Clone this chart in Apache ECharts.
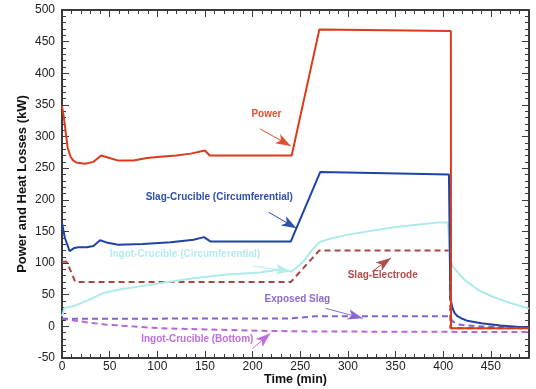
<!DOCTYPE html>
<html>
<head>
<meta charset="utf-8">
<script src="https://cdn.jsdelivr.net/npm/echarts@6/dist/echarts.min.js"></script>
<style>
  html, body { margin: 0; padding: 0; background: #fff; }
  #chart { width: 536px; height: 389px; }
</style>
</head>
<body>
<div id="chart"></div>
<script>
// Power input and heat losses during a melt cycle (kW against minutes)

const powerTime = [0, 2, 4, 6, 9, 12, 15, 24, 33, 37, 41, 50, 59, 75, 89, 103, 120, 135, 150, 155, 241, 270, 340, 408, 408.2, 450, 490];
const powerKW   = [348, 330, 305, 282, 268, 262, 259, 257, 260, 265, 270, 266, 262, 262, 266, 268, 270, 273, 278, 270, 270, 469, 468, 467, -3, -3, -3];

const slagCrucibleTime = [0, 3, 8, 13, 17, 26, 33, 40, 48, 59, 85, 114, 138, 149, 156, 240, 271, 340, 406, 407.5, 409.7, 412, 415, 420, 425, 440, 460, 490];
const slagCrucibleKW   = [163, 140, 119, 124, 125, 125, 127, 136, 132, 129, 130, 133, 137, 141, 134, 134, 244, 242, 240, 45, 29, 21, 16, 12, 9, 5, 1.5, -2];

const ingotCircTime = [0, 2.5, 14, 27, 44, 63, 77, 103, 138, 173, 208, 228, 236, 241, 248, 255, 262, 270, 280, 300, 325, 350, 375, 395, 405, 407, 410, 416, 422, 436, 450, 468, 490];
const ingotCircKW   = [16, 29, 33, 41, 53, 59, 62, 68, 76, 82, 85, 90, 88, 87, 95, 106, 120, 133, 138, 145, 151, 157, 161, 164, 164, 110, 95, 84, 74, 58, 48, 38, 28];

const slagElectrodeTime = [0, 5, 14, 240, 270, 407, 407.5, 490];
const slagElectrodeKW   = [102, 102, 70, 70, 120, 120, -3, -3];

const exposedSlagTime = [0, 240, 266, 406, 408, 410, 414, 420, 440, 490];
const exposedSlagKW   = [12, 12.5, 16, 16, 14, 8, 4, 2, 0, -2];

const ingotBottomTime = [0, 14, 28, 45, 73, 103, 155, 208, 260, 350, 490];
const ingotBottomKW   = [12, 9, 6, 3, 0, -3, -5, -7, -8, -8.5, -9];

const xTicks = { min: 0, max: 490, step: 50 };
const yTicks = { min: -50, max: 500, step: 50 };

const FONT = '"Liberation Sans", Arial, Helvetica, sans-serif';
const AXIS_COLOR = '#3a3a3a';

function zip(xs, ys) { return xs.map((x, i) => [x, ys[i]]); }

// text label plus arrow, placed in data coordinates
function note(text, at, from, to, color) {
  return {
    markPoint: {
      silent: true,
      animation: false,
      data: [{
        coord: at,
        symbol: 'circle',
        symbolSize: 1,
        itemStyle: { color: 'rgba(0,0,0,0)' },
        label: {
          show: true, position: 'inside', formatter: text,
          color: color, fontSize: 10, fontWeight: 'bold', fontFamily: FONT
        }
      }]
    },
    markLine: {
      silent: true,
      animation: false,
      symbol: ['none', 'arrow'],
      label: { show: false },
      emphasis: { disabled: true },
      lineStyle: { color: color, width: 1, type: 'solid' },
      data: [[
        { coord: from, symbol: 'none' },
        { coord: to, symbol: 'arrow', symbolSize: [8, 15] }
      ]]
    }
  };
}

function lineSeries(name, data, color, dashed, ann) {
  return Object.assign({
    name: name,
    type: 'line',
    data: data,
    showSymbol: false,
    symbol: 'none',
    smooth: false,
    animation: false,
    lineStyle: { color: color, width: 2, type: dashed ? [6, 4] : 'solid' },
    emphasis: { disabled: true },
    z: 3
  }, ann);
}

function valueAxis(range, extra) {
  return Object.assign({
    type: 'value',
    min: range.min,
    max: range.max,
    interval: range.step,
    splitLine: { show: false },
    axisLine: { show: true, onZero: false, lineStyle: { color: AXIS_COLOR, width: 2 } },
    axisTick: { show: true, inside: true, length: 7, lineStyle: { color: AXIS_COLOR, width: 1 } },
    minorTick: { show: true, splitNumber: 5, length: 4, lineStyle: { color: AXIS_COLOR, width: 1 } },
    axisLabel: { show: true, color: '#222', fontSize: 12, fontFamily: FONT }
  }, extra);
}

const chart = echarts.init(document.getElementById('chart'), null, { renderer: 'canvas' });

chart.setOption({
  animation: false,
  backgroundColor: '#ffffff',
  grid: { left: 62, right: 7, top: 10, bottom: 31, containLabel: false, outerBoundsMode: 'none' },
  xAxis: [
    valueAxis(xTicks, {
      position: 'bottom',
      name: 'Time (min)',
      nameLocation: 'middle',
      nameGap: 15,
      nameMoveOverlap: false,
      nameTextStyle: { color: '#111', fontSize: 12.5, fontWeight: 'bold', fontFamily: FONT },
      axisLabel: { show: true, color: '#222', fontSize: 12, fontFamily: FONT, margin: 3, showMaxLabel: false }
    }),
    valueAxis(xTicks, { position: 'top', axisLabel: { show: false } })
  ],
  yAxis: [
    valueAxis(yTicks, {
      position: 'left',
      name: 'Power and Heat Losses (kW)',
      nameLocation: 'middle',
      nameGap: 33,
      nameMoveOverlap: false,
      nameTextStyle: { color: '#111', fontSize: 13, fontWeight: 'bold', fontFamily: FONT },
      axisLabel: { show: true, color: '#222', fontSize: 12, fontFamily: FONT, margin: 7 }
    }),
    valueAxis(yTicks, { position: 'right', axisLabel: { show: false } })
  ],
  series: [
    lineSeries('Ingot-Crucible (Bottom)', zip(ingotBottomTime, ingotBottomKW), '#b866d8', true,
      note('Ingot-Crucible (Bottom)', [142, -21], [200, -35], [218.7, -11], '#bf70df')),
    lineSeries('Exposed Slag', zip(exposedSlagTime, exposedSlagKW), '#8462cf', true,
      note('Exposed Slag', [247, 43], [276.5, 28.5], [315.5, 12.7], '#8a6ad0')),
    lineSeries('Slag-Electrode', zip(slagElectrodeTime, slagElectrodeKW), '#a84646', true,
      note('Slag-Electrode', [336.5, 81], [325.6, 87], [345, 108], '#b04c4c')),
    lineSeries('Ingot-Crucible (Circumferential)', zip(ingotCircTime, ingotCircKW), '#aeeaea', false,
      note('Ingot-Crucible (Circumferential)', [129, 114], [201, 95], [240, 87], '#b4ecec')),
    lineSeries('Slag-Crucible (Circumferential)', zip(slagCrucibleTime, slagCrucibleKW), '#1f43a5', false,
      note('Slag-Crucible (Circumferential)', [165, 204], [216.6, 180.5], [246, 155], '#2e4fab')),
    lineSeries('Power', zip(powerTime, powerKW), '#dc3a1a', false,
      note('Power', [214.5, 335.7], [208, 312], [240, 285], '#e0502e'))
  ]
});
</script>
</body>
</html>
